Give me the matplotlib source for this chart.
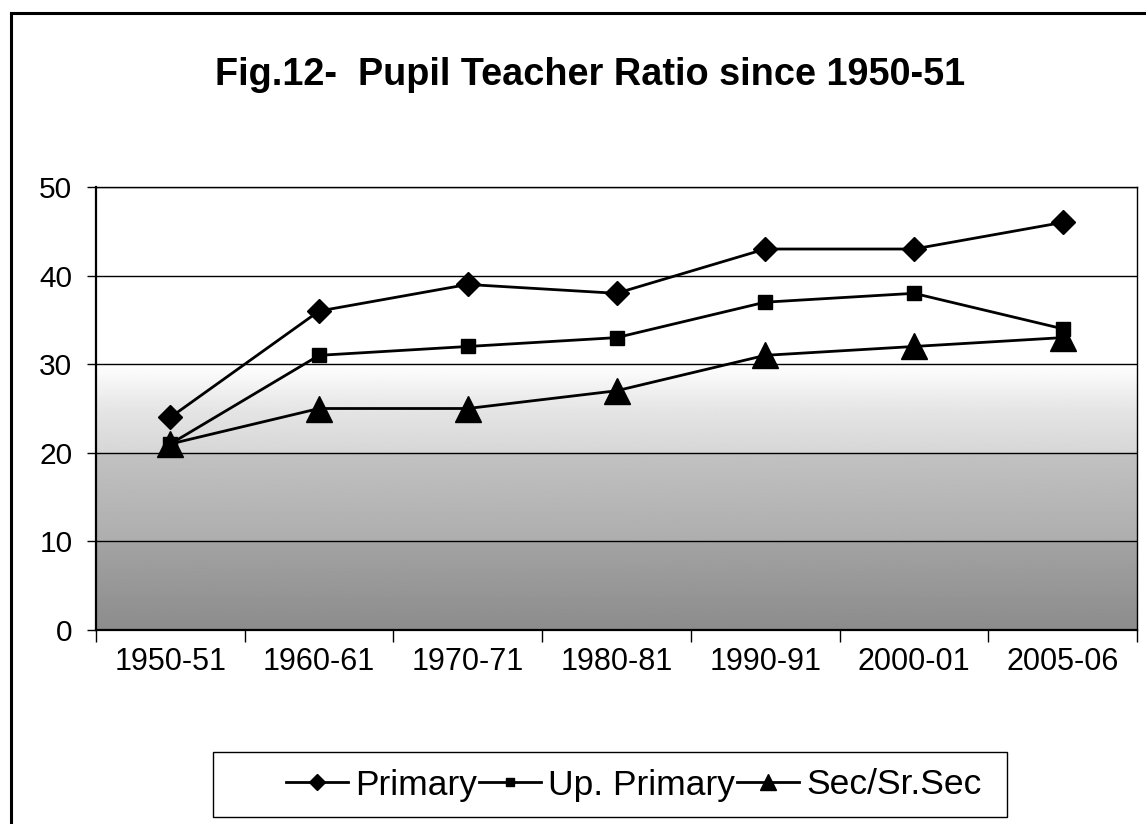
import matplotlib
matplotlib.use('Agg')
import matplotlib.pyplot as plt
import numpy as np
from matplotlib.lines import Line2D
from matplotlib.patches import Rectangle

plt.rcParams['font.family'] = ['Liberation Sans', 'DejaVu Sans']

years = ['1950-51', '1960-61', '1970-71', '1980-81', '1990-91', '2000-01', '2005-06']
primary = [24, 36, 39, 38, 43, 43, 46]
up_primary = [21, 31, 32, 33, 37, 38, 34]
sec_sr_sec = [21, 25, 25, 27, 31, 32, 33]
yticks = [0, 10, 20, 30, 40, 50]

W, H = 1146, 824
fig = plt.figure(figsize=(W / 100, H / 100), dpi=100)
fig.patch.set_facecolor('white')

def fx(px):
    return px / W

def fy(py):
    return (H - py) / H

ax = fig.add_axes([fx(96), fy(630), fx(1137) - fx(96), fy(187) - fy(630)])
x = np.arange(len(years))

# scanned grey shading behind the lower half of the plot
shade_y = np.linspace(0, 50, 400)
shade = np.interp(shade_y, [0, 10, 10.01, 20, 20.01, 25, 30, 50],
                  [0.55, 0.64, 0.68, 0.76, 0.84, 0.90, 1.0, 1.0])
ax.imshow(shade[:, None], cmap='gray', vmin=0, vmax=1, origin='lower',
          extent=(-0.5, len(years) - 0.5, 0, 50), aspect='auto', zorder=0)

ax.plot(x, primary, color='black', lw=2.0, marker='D', ms=12, zorder=3)
ax.plot(x, up_primary, color='black', lw=2.0, marker='s', ms=10, zorder=3)
ax.plot(x, sec_sr_sec, color='black', lw=2.0, marker='^', ms=19, zorder=3)

ax.set_xlim(-0.5, len(years) - 0.5)
ax.set_ylim(0, 50)
ax.set_yticks(yticks)
ax.set_yticklabels([str(v) for v in yticks])
ax.yaxis.grid(True, color='black', lw=1.0)
ax.set_axisbelow(False)

ax.set_xticks(np.arange(len(years) + 1) - 0.5)
ax.set_xticklabels([])
ax.set_xticks(x, minor=True)
ax.set_xticklabels(years, minor=True)
ax.tick_params(axis='x', which='major', direction='out', length=8.5, width=1.0)
ax.tick_params(axis='x', which='minor', length=0, pad=12, labelsize=22)
ax.tick_params(axis='y', direction='out', length=6.5, width=1.0, pad=10.5, labelsize=21.5)

for side in ['left', 'bottom']:
    ax.spines[side].set_linewidth(1.6)
for side in ['top', 'right']:
    ax.spines[side].set_linewidth(1.0)

fig.text(fx(590), fy(75), 'Fig.12-  Pupil Teacher Ratio since 1950-51',
         ha='center', va='center', fontsize=27.3, fontweight='bold')

handles = [
    Line2D([], [], color='black', lw=2.0, marker='D', ms=8),
    Line2D([], [], color='black', lw=2.0, marker='s', ms=6),
    Line2D([], [], color='black', lw=2.0, marker='^', ms=11),
]
fig.legend(handles, ['Primary', 'Up. Primary', 'Sec/Sr.Sec'], ncol=3,
           loc='center', bbox_to_anchor=(fx(634), fy(785)), frameon=False,
           fontsize=25.5, handlelength=1.75, handletextpad=0.2,
           columnspacing=0.05, borderpad=0)
fig.patches.append(Rectangle((fx(213), fy(817)), fx(1007) - fx(213), fy(752) - fy(817),
                             transform=fig.transFigure, fill=False,
                             edgecolor='black', lw=1.0))

# outer frame of the scanned figure
fig.add_artist(Line2D([fx(10.5), fx(10.5)], [fy(13), 0], transform=fig.transFigure,
                      color='black', lw=2.2))
fig.add_artist(Line2D([fx(10.5), 1], [fy(13), fy(13)], transform=fig.transFigure,
                      color='black', lw=2.2))

fig.savefig('out.png', dpi=100)
